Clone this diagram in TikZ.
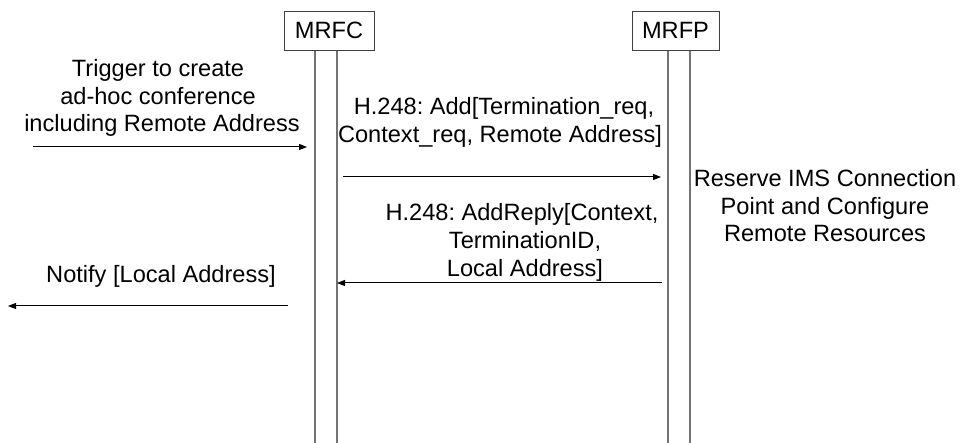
\documentclass[tikz,border=0pt]{standalone}
\usepackage{fontspec}
\setmainfont{Liberation Sans}
\usetikzlibrary{arrows.meta}
\frenchspacing
\begin{document}
\begin{tikzpicture}[x=1pt,y=-1pt,
  every node/.style={inner sep=0pt,font=\fontsize{23.6}{27.5}\selectfont\frenchspacing},
  lbl/.style={anchor=base},
  entity/.style={draw=black!75,line width=1pt,minimum width=90pt,minimum height=39pt},
  life/.style={draw=black!55,line width=1.1pt},
  msg/.style={draw=black,line width=1pt,-{Triangle[length=8pt,width=6pt]}}]
\useasboundingbox (0,0) rectangle (962,443);
% entities
\node[entity] (mrfc) at (329,31.5) {};
\node[lbl] (mrfct) at (329,39) {MRFC};
\node[entity,minimum width=87pt] (mrfp) at (675.5,31.5) {};
\node[lbl] (mrfpt) at (675.5,39) {MRFP};
% lifelines
\coordinate (c1b) at (315,443);
\coordinate (c2b) at (337,443);
\coordinate (p1b) at (668,443);
\coordinate (p2b) at (690,443);
\draw[life] (mrfc.south -| c1b) -- (c1b);
\draw[life] (mrfc.south -| c2b) -- (c2b);
\draw[life] (mrfp.south -| p1b) -- (p1b);
\draw[life] (mrfp.south -| p2b) -- (p2b);
% message 1
\node[lbl] (t1) at (158,77) {Trigger to create};
\node[lbl] (t2) at (158,105) {ad-hoc conference};
\node[lbl] (t3) at (162,132) {including Remote Address};
\coordinate (m1s) at (33,147);
\coordinate (m1e) at (307,147);
\draw[msg] (m1s) -- (m1e);
% message 2
\node[lbl] (a1) at (504,115) {H.248: Add[Termination\_req,};
\node[lbl] (a2) at (500,143) {Context\_req, Remote Address]};
\coordinate (m2s) at (343,177);
\coordinate (m2e) at (661,177);
\draw[msg] (m2s) -- (m2e);
% action
\node[lbl] (r1) at (825,187) {Reserve IMS Connection};
\node[lbl] (r2) at (825,215) {Point and Configure};
\node[lbl] (r3) at (825,242) {Remote Resources};
% message 3
\node[lbl] (b1) at (522,221) {H.248: AddReply[Context,};
\node[lbl] (b2) at (525,249) {TerminationID,};
\node[lbl] (b3) at (525,277) {Local Address]};
\coordinate (m3s) at (662,283);
\coordinate (m3e) at (337,283);
\draw[msg] (m3s) -- (m3e);
% message 4
\node[lbl] (n1) at (161,283) {Notify [Local Address]};
\coordinate (m4s) at (288,306);
\coordinate (m4e) at (8,306);
\draw[msg] (m4s) -- (m4e);
\end{tikzpicture}
\end{document}
